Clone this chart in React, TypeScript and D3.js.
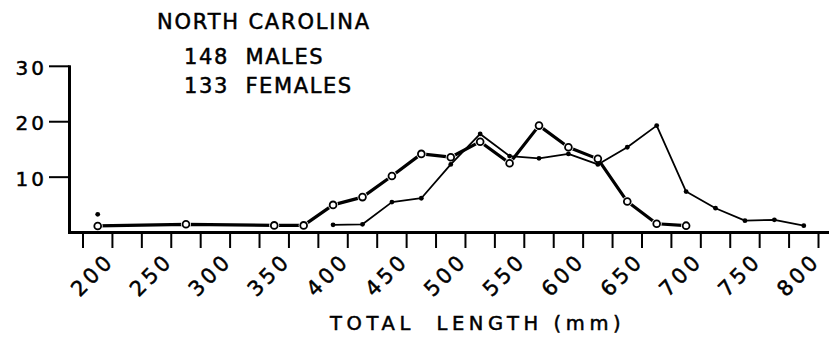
import { useEffect, useRef } from 'react'
import * as d3 from 'd3'

// length classes (mm), 25 mm wide, plotted at class midpoints
const classMids = [
  187.5, 212.5, 237.5, 262.5, 287.5, 312.5, 337.5, 362.5, 387.5, 412.5, 437.5, 462.5,
  487.5, 512.5, 537.5, 562.5, 587.5, 612.5, 637.5, 662.5, 687.5, 712.5, 737.5, 762.5, 787.5,
]

// open circles, heavy line (percent of sample)
const openValues: (number | null)[] = [
  1.2, null, null, 1.5, null, null, 1.3, 1.3, 5.0, 6.4, 10.2, 14.2,
  13.6, 16.4, 12.5, 19.3, 15.4, 13.3, 5.6, 1.6, 1.25, null, null, null, null,
]

// filled dots, light line (percent of sample)
const solidValues: (number | null)[] = [
  3.3, null, null, null, null, null, null, null, 1.4, 1.5, 5.5, 6.2,
  12.3, 17.8, 13.8, 13.4, 14.2, 12.3, 15.4, 19.3, 7.4, 4.4, 2.15, 2.3, 1.25,
]

const xTicks = [
  175, 200, 225, 250, 275, 300, 325, 350, 375, 400, 425, 450, 475, 500,
  525, 550, 575, 600, 625, 650, 675, 700, 725, 750, 775, 800,
]
const xLabels = [200, 250, 300, 350, 400, 450, 500, 550, 600, 650, 700, 750, 800]
const yTicks = [10, 20, 30]

const titleLines = ['NORTH CAROLINA', '148  MALES', '133  FEMALES']
const xTitle = 'TOTAL  LENGTH (mm)'

const width = 829
const height = 344
const font = '"DejaVu Sans", sans-serif'

export default function App() {
  const svgRef = useRef<SVGSVGElement>(null)

  useEffect(() => {
    if (!svgRef.current) return
    const svg = d3.select(svgRef.current)
    svg.selectAll('*').remove()

    const x = d3.scaleLinear().domain([175, 800]).range([83, 818.5])
    const y = d3.scaleLinear().domain([0, 30]).range([232.6, 66.3])

    const g = svg.append('g')

    // lettering: thickened a little with a stroke, like the pen lettering
    const letter = (sel: d3.Selection<SVGTextElement, any, any, any>, size: number, ls: number) =>
      sel
        .attr('font-size', size)
        .attr('letter-spacing', ls)
        .attr('fill', '#000')
        .attr('stroke', '#000')
        .attr('stroke-width', 0.5)
        .style('white-space', 'pre')

    // header text
    letter(g.append('text').attr('x', 157).attr('y', 28.5).text(titleLines[0]), 21, 1.8)
    letter(g.append('text').attr('x', 184).attr('y', 64).text(titleLines[1]), 21, 1.6)
    letter(g.append('text').attr('x', 184).attr('y', 92.5).text(titleLines[2]), 21, 1.6)

    // y axis
    g.append('line')
      .attr('x1', 69.5).attr('x2', 69.5)
      .attr('y1', y(30) - 1).attr('y2', 233)
      .attr('stroke', '#000').attr('stroke-width', 3)
    g.selectAll('.ytick')
      .data(yTicks)
      .enter()
      .append('line')
      .attr('x1', 49).attr('x2', 69.5)
      .attr('y1', (d) => y(d)).attr('y2', (d) => y(d))
      .attr('stroke', '#000').attr('stroke-width', 2)
    letter(
      g.selectAll('.ylab')
        .data(yTicks)
        .enter()
        .append('text')
        .attr('x', 47)
        .attr('y', (d) => y(d) + 8.5)
        .attr('text-anchor', 'end')
        .text((d) => String(d)) as any,
      20,
      3
    )

    // x axis
    g.append('line')
      .attr('x1', 68).attr('x2', width)
      .attr('y1', 232.5).attr('y2', 232.5)
      .attr('stroke', '#000').attr('stroke-width', 3)
    g.selectAll('.xtick')
      .data(xTicks)
      .enter()
      .append('line')
      .attr('x1', (d) => x(d)).attr('x2', (d) => x(d))
      .attr('y1', 233).attr('y2', 248)
      .attr('stroke', '#000').attr('stroke-width', 2)
    letter(
      g.selectAll('.xlab')
        .data(xLabels)
        .enter()
        .append('text')
        .attr('transform', (d) => `translate(${x(d) + 3},${262}) rotate(-45)`)
        .attr('text-anchor', 'end')
        .text((d) => String(d)) as any,
      21,
      3.5
    )

    letter(g.append('text').attr('x', 330).attr('y', 329.5).text(xTitle), 19.5, 4.6)

    const openPts = classMids
      .map((m, i) => ({ m, v: openValues[i] }))
      .filter((d) => d.v !== null) as { m: number; v: number }[]
    const solidPts = classMids.map((m, i) => ({ m, v: solidValues[i] }))

    // heavy line joins every plotted open point
    const openLine = d3.line<{ m: number; v: number }>()
      .x((d) => x(d.m))
      .y((d) => y(d.v))
    g.append('path')
      .attr('d', openLine(openPts))
      .attr('fill', 'none')
      .attr('stroke', '#000')
      .attr('stroke-width', 3.2)
      .attr('stroke-linejoin', 'round')

    // small gaps round the open circles
    g.selectAll('.halo')
      .data(openPts)
      .enter()
      .append('circle')
      .attr('cx', (d) => x(d.m))
      .attr('cy', (d) => y(d.v))
      .attr('r', 5)
      .attr('fill', '#fff')

    // light line breaks where the class is empty
    const solidLine = d3.line<{ m: number; v: number | null }>()
      .defined((d) => d.v !== null)
      .x((d) => x(d.m))
      .y((d) => y(d.v as number))
    g.append('path')
      .attr('d', solidLine(solidPts))
      .attr('fill', 'none')
      .attr('stroke', '#000')
      .attr('stroke-width', 1.8)
      .attr('stroke-linejoin', 'round')

    g.selectAll('.open')
      .data(openPts)
      .enter()
      .append('circle')
      .attr('cx', (d) => x(d.m))
      .attr('cy', (d) => y(d.v))
      .attr('r', 3.4)
      .attr('fill', '#fff')
      .attr('stroke', '#000')
      .attr('stroke-width', 1.8)

    g.selectAll('.solid')
      .data(solidPts.filter((d) => d.v !== null))
      .enter()
      .append('circle')
      .attr('cx', (d) => x(d.m))
      .attr('cy', (d) => y(d.v as number))
      .attr('r', 2.4)
      .attr('fill', '#000')
  }, [])

  return (
    <svg
      ref={svgRef}
      width={width}
      height={height}
      style={{ position: 'absolute', left: 0, top: 0, background: '#fff', fontFamily: font }}
    />
  )
}
